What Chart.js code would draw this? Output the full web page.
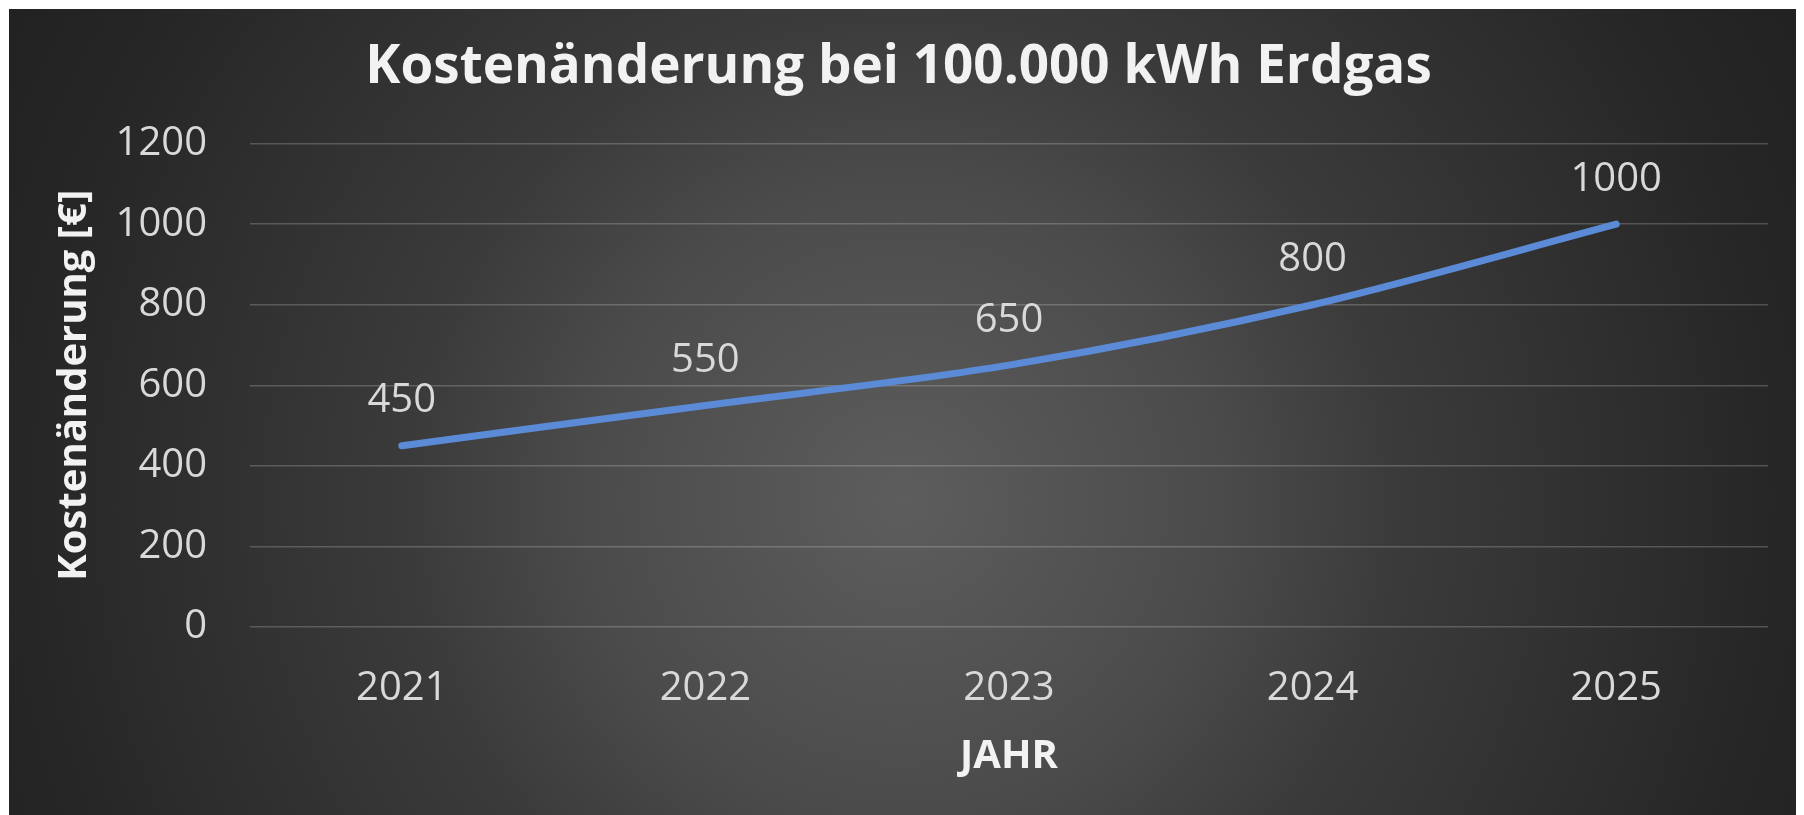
<!DOCTYPE html>
<html lang="de">
<head>
<meta charset="utf-8">
<title>Kostenänderung bei 100.000 kWh Erdgas</title>
<script src="https://cdn.jsdelivr.net/npm/chart.js@4.4.1/dist/chart.umd.min.js"></script>
<style>
    html, body {
        margin: 0;
        padding: 0;
        background: #ffffff;
        width: 1804px;
        height: 815px;
        overflow: hidden;
    }
    .chart-box {
        position: absolute;
        left: 9px;
        top: 9px;
        width: 1787px;
        height: 806px;
        background: radial-gradient(circle at 50% 61%, #5d5d5d 0px, #4b4b4b 315px, #3b3b3b 490px, #262626 880px, #222222 1000px);
    }
</style>
</head>
<body>
<div class="chart-box">
    <canvas id="costChart"></canvas>
</div>
<script>
const years = ['2021', '2022', '2023', '2024', '2025'];
const costChange = [450, 550, 650, 800, 1000];
const yTicks = [0, 200, 400, 600, 800, 1000, 1200];

const chartTitle = 'Kostenänderung bei 100.000 kWh Erdgas';
const yTitle = 'Kostenänderung [€]';
const xTitle = 'JAHR';

const fontFamily = '"Open Sans", sans-serif';

// simple value labels above each point (no datalabels plugin offline)
const valueLabels = {
    id: 'valueLabels',
    afterDatasetsDraw(chart) {
        const ctx = chart.ctx;
        const meta = chart.getDatasetMeta(0);
        ctx.save();
        ctx.font = '40px ' + fontFamily;
        ctx.fillStyle = '#d9d9d9';
        ctx.textAlign = 'center';
        ctx.textBaseline = 'middle';
        meta.data.forEach((pt, i) => {
            ctx.fillText(String(costChange[i]), pt.x, pt.y - 45);
        });
        ctx.restore();
    }
};

const ctx = document.getElementById('costChart').getContext('2d');
new Chart(ctx, {
    type: 'line',
    data: {
        labels: years,
        datasets: [{
            label: 'Kostenänderung',
            data: costChange,
            borderColor: '#5b8bd6',
            backgroundColor: '#5b8bd6',
            borderWidth: 7,
            pointRadius: 0,
            tension: 0.3,
            borderCapStyle: 'round'
        }]
    },
    options: {
        responsive: true,
        maintainAspectRatio: false,
        animation: false,
        layout: {
            padding: { left: 20, right: 28, top: 0, bottom: 34 }
        },
        plugins: {
            legend: { display: false },
            tooltip: { enabled: false },
            title: {
                display: true,
                text: chartTitle,
                color: '#f2f2f2',
                font: { family: fontFamily, size: 53, weight: 'bold' },
                padding: { top: 27, bottom: 44 }
            }
        },
        scales: {
            x: {
                offset: true,
                grid: { display: false, drawTicks: false },
                border: { display: false },
                ticks: {
                    color: '#d9d9d9',
                    font: { family: fontFamily, size: 40 },
                    padding: 38,
                    maxRotation: 0
                },
                title: {
                    display: true,
                    text: xTitle,
                    color: '#f2f2f2',
                    font: { family: fontFamily, size: 40, weight: 'bold' },
                    padding: { top: 20, bottom: 0 }
                },
                afterFit: (scale) => { scale.height = 154; }
            },
            y: {
                min: 0,
                max: 1200,
                afterBuildTicks: (scale) => {
                    scale.ticks = yTicks.map(v => ({ value: v }));
                },
                grid: {
                    color: 'rgba(255, 255, 255, 0.2)',
                    lineWidth: 1.5,
                    drawTicks: false
                },
                border: { display: false },
                ticks: {
                    color: '#d9d9d9',
                    font: { family: fontFamily, size: 40 },
                    padding: 43,
                    callback: (value) => String(value)
                },
                title: {
                    display: true,
                    text: yTitle,
                    color: '#f2f2f2',
                    font: { family: fontFamily, size: 40, weight: 'bold' },
                    padding: { top: 22, bottom: 16 }
                },
                afterFit: (scale) => { scale.width = 221; }
            }
        }
    },
    plugins: [valueLabels]
});
</script>
</body>
</html>
